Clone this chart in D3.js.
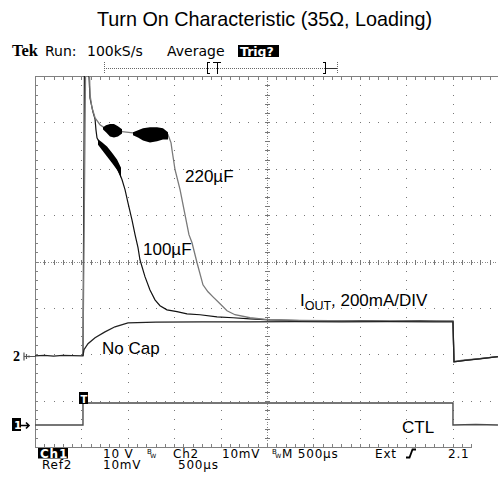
<!DOCTYPE html>
<html>
<head>
<meta charset="utf-8">
<script src="https://cdn.jsdelivr.net/npm/d3@7"></script>
<style>
  body { margin: 0; background: #fff; }
  svg { display: block; }
</style>
</head>
<body>
<div id="Chart"></div>
<script>

// DATA SEGMENT
// time in ms from the left edge of the screen (500us/div), current in mA (200mA/div), CTL in V (10V/div)

const NOCAP_T = [0, 0.10, 0.20, 0.30, 0.40, 0.517, 0.528, 0.571, 0.647, 0.754, 0.862, 1.002, 1.30, 1.80, 2.30, 2.80, 3.30, 3.80, 4.30, 4.504, 4.515, 4.634, 4.795, 4.989];
const NOCAP_I = [0, 2, -1, 2, 1, 0, 26, 52, 78, 103, 125, 142, 145, 146, 146, 147, 146, 147, 146, 146, -26, -20, -13, -4];

const C220_T = [0.517, 0.550, 0.582, 0.593, 0.614, 0.647, 0.700, 0.765, 0.841, 0.938, 1.056, 1.185, 1.315, 1.401, 1.433, 1.466, 1.476, 1.509, 1.563, 1.659, 1.692, 1.746, 1.810, 1.864, 1.918, 1.994, 2.069, 2.155, 2.317, 2.532, 2.856, 3.179, 3.502, 3.825, 4.149, 4.504, 4.515, 4.634, 4.795, 4.989];
const C220_I = [0, 1450, 1300, 1125, 1069, 1026, 996, 978, 970, 966, 961, 966, 970, 966, 953, 918, 888, 802, 716, 522, 487, 401, 306, 276, 254, 224, 194, 177, 164, 155, 153, 151, 150, 149, 148, 150, -24, -18, -12, -4];

const C100_T = [0.517, 0.535, 0.565, 0.593, 0.625, 0.647, 0.657, 0.668, 0.700, 0.754, 0.808, 0.862, 0.905, 0.938, 0.970, 1.002, 1.045, 1.078, 1.110, 1.131, 1.185, 1.239, 1.293, 1.347, 1.422, 1.530, 1.638, 1.778, 1.961, 2.134, 2.317, 2.532, 2.856, 3.179, 3.502, 3.825, 4.149, 4.504, 4.515, 4.634, 4.795, 4.989];
const C100_I = [0, 1450, 1350, 1110, 1050, 1020, 974, 940, 914, 884, 853, 823, 793, 759, 716, 659, 586, 522, 466, 414, 341, 284, 241, 216, 198, 190, 181, 177, 168, 164, 159, 155, 152, 150, 152, 149, 151, 148, -26, -20, -12, -4];

// ripple envelopes (drawn as solid bands)
const C220_RIPPLE1_T = [0.733, 0.765, 0.808, 0.851, 0.894, 0.938];
const C220_RIPPLE1_HI = [983, 991, 996, 996, 987, 974];
const C220_RIPPLE1_LO = [978, 966, 948, 944, 948, 961];
const C220_RIPPLE2_T = [1.056, 1.110, 1.164, 1.239, 1.315, 1.379, 1.433];
const C220_RIPPLE2_HI = [961, 970, 978, 983, 983, 978, 961];
const C220_RIPPLE2_LO = [953, 944, 931, 922, 927, 935, 935];
const C100_RIPPLE_T = [0.679, 0.722, 0.776, 0.830, 0.884, 0.927];
const C100_RIPPLE_HI = [931, 918, 899, 873, 843, 808];
const C100_RIPPLE_LO = [912, 890, 862, 834, 804, 769];

const CTL_T = [0, 0.25, 0.517, 0.517, 4.504, 4.504, 4.75, 4.989];
const CTL_V = [0, 0, 0, 4.74, 4.74, 0, 0.1, 0];

const CH2_POS = -2.03;   // divisions
const CH1_POS = -3.52;

// status read-out columns: x, first line, second line
const READOUT = [[103, "10 V", "10mV"], [173, "Ch2", ""], [178, "", "500\u00B5s"], [222, "10mV", ""], [282, "M 500\u00B5s", ""], [375, "Ext", ""], [448, "2.1", ""]];

// CHART SEGMENT

const CHART_WIDTH = 498;
const CHART_HEIGHT = 478;
const GRID_LEFT = 35, GRID_RIGHT = 499, GRID_TOP = 76, GRID_BOTTOM = 447.2;

const xDiv = d3.scaleLinear().domain([0, 10]).range([GRID_LEFT, GRID_RIGHT]);
const yDiv = d3.scaleLinear().domain([-4, 4]).range([GRID_BOTTOM, GRID_TOP]);
const x = d3.scaleLinear().domain([0, 5]).range([GRID_LEFT, GRID_RIGHT]);
const yCur = d3.scaleLinear().domain([(-4 - CH2_POS) * 200, (4 - CH2_POS) * 200]).range([GRID_BOTTOM, GRID_TOP]);
const yCtl = d3.scaleLinear().domain([(-4 - CH1_POS) * 10, (4 - CH1_POS) * 10]).range([GRID_BOTTOM, GRID_TOP]);

const zip = (a, b) => a.map((v, i) => [v, b[i]]);

const svg = d3.select("#Chart")
    .append("svg")
    .attr("width", CHART_WIDTH)
    .attr("height", CHART_HEIGHT)
    .attr("viewBox", [0, 0, CHART_WIDTH, CHART_HEIGHT]);

svg.append("rect").attr("width", CHART_WIDTH).attr("height", CHART_HEIGHT).attr("fill", "#fff");

// title
svg.append("text")
    .attr("x", 97).attr("y", 26)
    .style("font", "19.8px 'Liberation Sans', Arial, sans-serif")
    .text("Turn On Characteristic (35\u03A9, Loading)");

// graticule
const grid = svg.append("g").attr("shape-rendering", "crispEdges");
const minorX = d3.range(0, 50.01).map(i => i / 5);
const minorY = d3.range(0, 40.01).map(i => -4 + i / 5);

const dots = [];
[1, 2, 3, 4, 6, 7, 8, 9].forEach(i => minorY.forEach(v => dots.push([xDiv(i), yDiv(v)])));
[-3, -2, -1, 1, 2, 3].forEach(j => minorX.forEach(u => dots.push([xDiv(u), yDiv(j)])));
grid.selectAll("rect.dot")
    .data(dots)
    .join("rect")
    .attr("class", "dot")
    .attr("x", d => Math.round(d[0]))
    .attr("y", d => Math.round(d[1]))
    .attr("width", 1).attr("height", 1)
    .attr("fill", "#777");

// center cross
const cx = Math.round(xDiv(5)) + 0.5, cy = Math.round(yDiv(0)) + 0.5;
grid.append("line").attr("x1", cx).attr("x2", cx).attr("y1", GRID_TOP).attr("y2", GRID_BOTTOM)
    .attr("stroke", "#888").attr("stroke-dasharray", "1,1.6");
grid.append("line").attr("x1", GRID_LEFT).attr("x2", GRID_RIGHT).attr("y1", cy).attr("y2", cy)
    .attr("stroke", "#888").attr("stroke-dasharray", "1,1.6");
grid.selectAll("line.vt")
    .data(minorY)
    .join("line")
    .attr("class", "vt")
    .attr("x1", cx - 2.5).attr("x2", cx + 2.5)
    .attr("y1", d => Math.round(yDiv(d)) + 0.5).attr("y2", d => Math.round(yDiv(d)) + 0.5)
    .attr("stroke", "#777");
grid.selectAll("line.ht")
    .data(minorX)
    .join("line")
    .attr("class", "ht")
    .attr("y1", cy - 2.5).attr("y2", cy + 2.5)
    .attr("x1", d => Math.round(xDiv(d)) + 0.5).attr("x2", d => Math.round(xDiv(d)) + 0.5)
    .attr("stroke", "#777");

// border with minor ticks
const border = "#808080";
grid.append("line").attr("x1", GRID_LEFT + 0.5).attr("x2", GRID_LEFT + 0.5).attr("y1", GRID_TOP).attr("y2", GRID_BOTTOM + 0.5)
    .attr("stroke", border).attr("stroke-width", 1.5);
grid.append("line").attr("x1", GRID_LEFT).attr("x2", GRID_RIGHT).attr("y1", GRID_TOP + 0.5).attr("y2", GRID_TOP + 0.5)
    .attr("stroke", border).attr("stroke-width", 1.5);
grid.append("line").attr("x1", GRID_LEFT).attr("x2", 472).attr("y1", Math.round(GRID_BOTTOM) + 0.5).attr("y2", Math.round(GRID_BOTTOM) + 0.5)
    .attr("stroke", border).attr("stroke-width", 1.5);
grid.selectAll("line.tt")
    .data(minorX)
    .join("line")
    .attr("class", "tt")
    .attr("x1", d => Math.round(xDiv(d)) + 0.5).attr("x2", d => Math.round(xDiv(d)) + 0.5)
    .attr("y1", GRID_TOP).attr("y2", GRID_TOP + 4)
    .attr("stroke", border);
grid.selectAll("line.bt")
    .data(minorX.filter(d => xDiv(d) <= 472))
    .join("line")
    .attr("class", "bt")
    .attr("x1", d => Math.round(xDiv(d)) + 0.5).attr("x2", d => Math.round(xDiv(d)) + 0.5)
    .attr("y1", Math.round(GRID_BOTTOM) - 3).attr("y2", Math.round(GRID_BOTTOM))
    .attr("stroke", border);
grid.selectAll("line.lt")
    .data(minorY)
    .join("line")
    .attr("class", "lt")
    .attr("y1", d => Math.round(yDiv(d)) + 0.5).attr("y2", d => Math.round(yDiv(d)) + 0.5)
    .attr("x1", GRID_LEFT).attr("x2", GRID_LEFT + 3)
    .attr("stroke", border);

// traces
svg.append("clipPath").attr("id", "screen")
    .append("rect")
    .attr("x", GRID_LEFT).attr("y", GRID_TOP)
    .attr("width", GRID_RIGHT - GRID_LEFT).attr("height", GRID_BOTTOM - GRID_TOP);

const traces = svg.append("g").attr("clip-path", "url(#screen)");

const curLine = d3.line().x(d => x(d[0])).y(d => yCur(d[1]));
const ctlLine = d3.line().x(d => x(d[0])).y(d => yCtl(d[1]));
const ripple = d3.area().x(d => x(d[0])).y0(d => yCur(d[2]) + 0.6).y1(d => yCur(d[1]) - 0.6);

traces.append("path")
    .attr("d", ctlLine(zip(CTL_T, CTL_V)))
    .attr("fill", "none").attr("stroke", "#4a4a4a").attr("stroke-width", 1.4);

traces.append("path")
    .attr("d", curLine(zip(C100_T, C100_I)))
    .attr("fill", "none").attr("stroke", "#111").attr("stroke-width", 1.2);
traces.append("path")
    .attr("d", curLine(zip(C220_T, C220_I)))
    .attr("fill", "none").attr("stroke", "#7a7a7a").attr("stroke-width", 1.3);
traces.append("path")
    .attr("d", curLine(zip(NOCAP_T, NOCAP_I)))
    .attr("fill", "none").attr("stroke", "#222").attr("stroke-width", 1.3);

[[C220_RIPPLE1_T, C220_RIPPLE1_HI, C220_RIPPLE1_LO],
 [C220_RIPPLE2_T, C220_RIPPLE2_HI, C220_RIPPLE2_LO],
 [C100_RIPPLE_T, C100_RIPPLE_HI, C100_RIPPLE_LO]].forEach(([t, hi, lo]) => {
    traces.append("path")
        .attr("d", ripple(t.map((v, i) => [v, hi[i], lo[i]])))
        .attr("fill", "#000");
});

// trace labels
const labelFont = "17px 'Liberation Sans', Arial, sans-serif";
const labels = svg.append("g").style("font", labelFont);
labels.append("text").attr("x", 185).attr("y", 182).text("220\u00B5F");
labels.append("text").attr("x", 143).attr("y", 255).text("100\u00B5F");
labels.append("text").attr("x", 102).attr("y", 354).text("No Cap");
labels.append("text").attr("x", 402).attr("y", 433).text("CTL");
const iout = labels.append("text").attr("x", 300).attr("y", 306);
iout.append("tspan").text("I");
iout.append("tspan").attr("dy", 4).style("font-size", "12.5px").text("OUT");
iout.append("tspan").attr("x", 331).attr("dy", -4).text(", 200mA/DIV");

// channel markers
const markers = svg.append("g");
markers.append("text").attr("x", 13).attr("y", Math.round(yCur(0)) + 4.5)
    .style("font", "bold 14px 'Liberation Serif', serif").text("2");
const gy = Math.round(yCur(0)) + 0.5;
markers.append("path")
    .attr("d", `M24,${gy} L${GRID_LEFT},${gy} M24,${gy - 4} L24,${gy + 4} M26.5,${gy - 2.5} L26.5,${gy + 2.5} M29,${gy - 1} L29,${gy + 1}`)
    .attr("stroke", "#555").attr("stroke-width", 1.2).attr("fill", "none");

const c1y = Math.round(yCtl(0));
markers.append("rect").attr("x", 12).attr("y", c1y - 7).attr("width", 9).attr("height", 13).attr("fill", "#000");
markers.append("text").attr("x", 14).attr("y", c1y + 4)
    .style("font", "bold 11px 'DejaVu Sans', sans-serif").attr("fill", "#fff").text("1");
markers.append("path")
    .attr("d", `M21,${c1y + 0.5} L29,${c1y + 0.5} M26,${c1y - 2.5} L29,${c1y + 0.5} L26,${c1y + 3.5}`)
    .attr("stroke", "#000").attr("stroke-width", 1.6).attr("fill", "none");

const trigX = Math.round(x(0.517));
markers.append("rect").attr("x", trigX - 4).attr("y", 392).attr("width", 9).attr("height", 12).attr("fill", "#000");
markers.append("text").attr("x", trigX - 2.5).attr("y", 402.5)
    .style("font", "bold 10px 'DejaVu Sans', sans-serif").attr("fill", "#fff").text("T");

// header status
const head = svg.append("g").style("font", "14px 'DejaVu Sans', sans-serif");
head.append("text").attr("x", 12).attr("y", 56)
    .style("font", "bold 16.5px 'Liberation Serif', serif").text("Tek");
head.append("text").attr("x", 45).attr("y", 56).text("Run:");
head.append("text").attr("x", 87).attr("y", 56).text("100kS/s");
head.append("text").attr("x", 167).attr("y", 56).text("Average");
head.append("rect").attr("x", 238).attr("y", 45).attr("width", 41).attr("height", 12).attr("fill", "#000");
head.append("text").attr("x", 240).attr("y", 56).attr("fill", "#fff")
    .style("font", "bold 12.5px 'DejaVu Sans', sans-serif").text("Trig?");

// record bracket
const br = svg.append("g").attr("shape-rendering", "crispEdges");
br.append("line").attr("x1", 104).attr("x2", 326).attr("y1", 68.5).attr("y2", 68.5)
    .attr("stroke", "#666").attr("stroke-dasharray", "1,1");
br.append("line").attr("x1", 326).attr("x2", 337).attr("y1", 68.5).attr("y2", 68.5).attr("stroke", "#333");
[104.5, 337.5].forEach(v => br.append("line").attr("x1", v).attr("x2", v).attr("y1", 62).attr("y2", 74)
    .attr("stroke", "#666").attr("stroke-dasharray", "1,1"));
br.append("path").attr("d", "M210,62.5 L207.5,62.5 L207.5,73.5 L210,73.5").attr("stroke", "#000").attr("stroke-width", 1.5).attr("fill", "none");
br.append("path").attr("d", "M213,62.5 L221,62.5 M217.5,62.5 L217.5,73.5").attr("stroke", "#000").attr("stroke-width", 1.2).attr("fill", "none");
br.append("path").attr("d", "M323,62.5 L325.5,62.5 L325.5,73.5 L323,73.5").attr("stroke", "#000").attr("stroke-width", 1.5).attr("fill", "none");

// footer status
const foot = svg.append("g").style("font", "12px 'DejaVu Sans', sans-serif").style("letter-spacing", "0.8px");
foot.append("rect").attr("x", 38).attr("y", 448).attr("width", 30).attr("height", 10.5).attr("fill", "#000");
const ch1 = foot.append("text").attr("x", 40).attr("y", 457.5);
ch1.append("tspan").attr("fill", "#fff").style("font-weight", "bold").text("Ch1");
ch1.append("tspan").attr("x", 42).attr("dy", 11).text("Ref2");

foot.selectAll("text.ro")
    .data(READOUT)
    .join("text")
    .attr("class", "ro")
    .attr("x", d => d[0]).attr("y", d => d[1] ? 457.5 : 468.5)
    .each(function(d) {
        const t = d3.select(this);
        if (d[1]) t.append("tspan").text(d[1]);
        if (d[1] && d[2]) t.append("tspan").attr("x", d[0]).attr("dy", 11).text(d[2]);
        else if (d[2]) t.append("tspan").text(d[2]);
    });

[147, 272].forEach(v => {
    const bw = foot.append("text").attr("x", v).attr("y", 454).style("letter-spacing", "0");
    bw.append("tspan").style("font-size", "7px").text("B");
    bw.append("tspan").attr("dy", 3.5).attr("dx", -1.5).style("font-size", "6px").text("W");
});
foot.append("path").attr("d", "M406,457.5 L409.5,457.5 L412.5,449.5 L416,449.5")
    .attr("stroke", "#000").attr("stroke-width", 1.8).attr("fill", "none");

</script>
</body>
</html>
